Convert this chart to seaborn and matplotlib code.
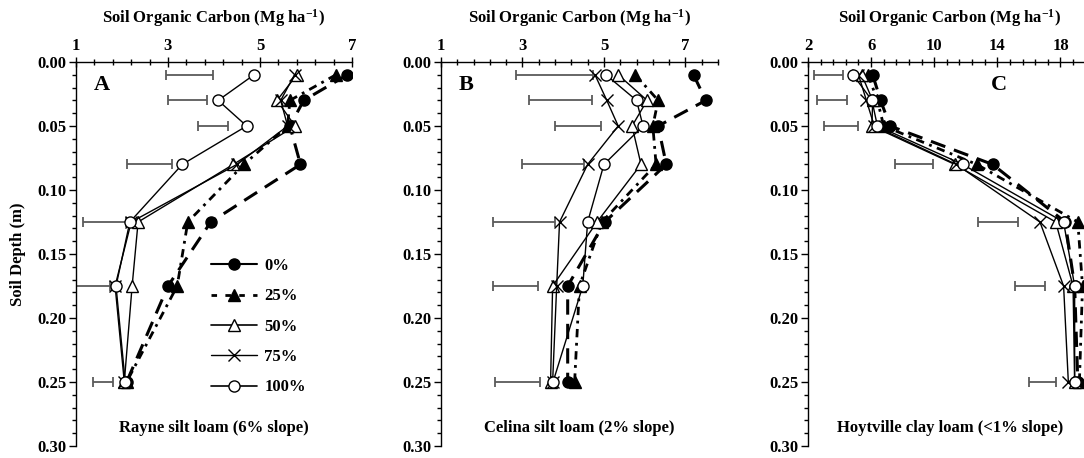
import numpy as np
import matplotlib
matplotlib.use("Agg")
import matplotlib.pyplot as plt
import seaborn as sns
from matplotlib.lines import Line2D

# ---- data -------------------------------------------------------------
depths = [0.01, 0.03, 0.05, 0.08, 0.125, 0.175, 0.25]
treatments = ["0%", "25%", "50%", "75%", "100%"]

# Rayne silt loam (6% slope)
rayne_0 = [6.90, 5.95, 5.65, 5.88, 3.93, 3.00, 2.10]
rayne_25 = [6.65, 5.65, 5.60, 4.65, 3.43, 3.20, 2.10]
rayne_50 = [5.80, 5.37, 5.76, 4.42, 2.35, 2.22, 2.05]
rayne_75 = [5.75, 5.45, 5.60, 4.50, 2.20, 1.85, 2.05]
rayne_100 = [4.87, 4.09, 4.71, 3.31, 2.17, 1.87, 2.07]
rayne_lsd_lo = [2.96, 3.00, 3.65, 2.10, 1.15, 1.00, 1.37]
rayne_lsd_hi = [3.98, 3.85, 4.30, 3.09, 2.09, 1.74, 1.80]

# Celina silt loam (2% slope)
celina_0 = [7.20, 7.50, 6.33, 6.53, 5.02, 4.11, 4.11]
celina_25 = [5.77, 6.33, 6.20, 6.28, 4.95, 4.40, 4.28]
celina_50 = [5.35, 6.06, 5.69, 5.91, 4.83, 3.74, 3.69]
celina_75 = [4.78, 5.07, 5.35, 4.60, 3.91, 3.84, 3.74]
celina_100 = [5.05, 5.80, 5.96, 5.00, 4.60, 4.48, 3.75]
celina_lsd_lo = [2.83, 3.17, 3.79, 2.98, 2.28, 2.28, 2.33]
celina_lsd_hi = [4.73, 4.70, 4.93, 4.50, 3.79, 3.37, 3.42]

# Hoytville clay loam (<1% slope)
hoyt_0 = [6.10, 6.60, 7.20, 13.70, 18.30, 18.90, 19.10]
hoyt_25 = [5.80, 6.40, 6.80, 12.70, 19.10, 19.40, 19.20]
hoyt_50 = [5.40, 6.10, 6.05, 11.30, 17.70, 18.80, 18.90]
hoyt_75 = [5.20, 5.70, 6.20, 11.40, 16.70, 18.20, 18.50]
hoyt_100 = [4.86, 6.05, 6.40, 11.80, 18.20, 18.90, 18.90]
hoyt_lsd_lo = [2.40, 2.60, 3.00, 7.50, 12.80, 15.10, 16.00]
hoyt_lsd_hi = [4.20, 4.50, 5.20, 9.90, 15.30, 17.00, 17.70]

xticks_ab = [1, 3, 5, 7]
xticks_c = [2, 6, 10, 14, 18]
yticks = [0.00, 0.05, 0.10, 0.15, 0.20, 0.25, 0.30]

panel_letters = ["A", "B", "C"]
soil_names = ["Rayne silt loam (6% slope)",
              "Celina silt loam (2% slope)",
              "Hoytville clay loam (<1% slope)"]

# ---- styling ----------------------------------------------------------
sns.set_theme(style="white", rc={
    "axes.edgecolor": "black", "text.color": "black",
    "xtick.color": "black", "ytick.color": "black",
    "axes.labelcolor": "black",
})
plt.rcParams["font.family"] = ["Liberation Serif", "DejaVu Serif"]
plt.rcParams["font.weight"] = "bold"
plt.rcParams["mathtext.fontset"] = "custom"
plt.rcParams["mathtext.rm"] = "Liberation Serif:bold"
plt.rcParams["mathtext.bf"] = "Liberation Serif:bold"
plt.rcParams["mathtext.default"] = "bf"

FS = 12

line_styles = {
    "0%":   dict(marker="o", markerfacecolor="black", markersize=8,
                 linestyle=(0, (5, 3)), linewidth=2.2),
    "25%":  dict(marker="^", markerfacecolor="black", markersize=8,
                 linestyle=(0, (3, 2, 1, 2)), linewidth=2.0),
    "50%":  dict(marker="^", markerfacecolor="white", markersize=8.5,
                 linestyle="-", linewidth=1.0),
    "75%":  dict(marker="x", markerfacecolor="none", markersize=8.5,
                 linestyle="-", linewidth=1.0),
    "100%": dict(marker="o", markerfacecolor="white", markersize=8,
                 linestyle="-", linewidth=1.0),
}

fig = plt.figure(figsize=(10.84, 4.58), dpi=100)
W, H = 1084.0, 458.0
bottom = (H - 446) / H
height = 384 / H
ax_a = fig.add_axes([76 / W, bottom, 276 / W, height])
ax_b = fig.add_axes([441 / W, bottom, 277 / W, height])
ax_c = fig.add_axes([808 / W, bottom, 284 / W, height])

panels = [
    (ax_a, [rayne_0, rayne_25, rayne_50, rayne_75, rayne_100],
     rayne_lsd_lo, rayne_lsd_hi, (1, 7), xticks_ab, 0.4, 0.065),
    (ax_b, [celina_0, celina_25, celina_50, celina_75, celina_100],
     celina_lsd_lo, celina_lsd_hi, (1, 7.8), xticks_ab, 0.4, 0.065),
    (ax_c, [hoyt_0, hoyt_25, hoyt_50, hoyt_75, hoyt_100],
     hoyt_lsd_lo, hoyt_lsd_hi, (2, 20), xticks_c, 0.8, 0.645),
]

for i, (ax, series, lo, hi, xlim, xt, xminor, letter_x) in enumerate(panels):
    lo = np.array(lo)
    hi = np.array(hi)
    ax.errorbar(x=(lo + hi) / 2, y=depths, xerr=(hi - lo) / 2, fmt="none",
                ecolor="#5a5a5a", elinewidth=1.3, capsize=3.5, capthick=1.3,
                zorder=2)
    for name, vals in zip(treatments, series):
        st = line_styles[name]
        sns.lineplot(x=vals, y=depths, orient="y", estimator=None, ax=ax,
                     color="black", markeredgecolor="black",
                     markeredgewidth=1.0, legend=False, zorder=3, **st)

    ax.set_xlim(*xlim)
    ax.set_ylim(0.30, 0.0)
    ax.xaxis.tick_top()
    ax.set_xticks(xt)
    ax.set_xticks(np.arange(xlim[0], xlim[1] + 1e-6, xminor), minor=True)
    ax.set_yticks(yticks)
    ax.set_yticklabels([f"{v:.2f}" for v in yticks])
    ax.set_yticks(np.arange(0, 0.3001, 0.01), minor=True)
    ax.tick_params(axis="x", which="major", direction="inout", length=7,
                   width=1, top=True, bottom=False, labelsize=FS, pad=2)
    ax.tick_params(axis="x", which="minor", direction="inout", length=4,
                   width=1, top=True, bottom=False)
    ax.tick_params(axis="y", which="major", direction="out", length=5,
                   width=1, left=True, labelsize=FS, pad=2)
    ax.tick_params(axis="y", which="minor", direction="out", length=3,
                   width=1, left=True)
    for lab in ax.get_xticklabels() + ax.get_yticklabels():
        lab.set_fontweight("bold")
    ax.spines["right"].set_visible(False)
    ax.spines["bottom"].set_visible(False)
    ax.spines["top"].set_linewidth(1.0)
    ax.spines["left"].set_linewidth(1.0)
    ax.set_xlabel("")
    ax.set_ylabel("")

    ax.text(0.5, 1 + 44 / 384, r"Soil Organic Carbon (Mg ha$^{-1}$)",
            transform=ax.transAxes, ha="center", va="center",
            fontsize=FS, fontweight="bold")
    ax.text(letter_x, 0.94, panel_letters[i], transform=ax.transAxes,
            ha="left", va="center", fontsize=16, fontweight="bold")
    ax.text(0.5, 18 / 384, soil_names[i], transform=ax.transAxes,
            ha="center", va="center", fontsize=FS, fontweight="bold")

ax_a.set_ylabel("Soil Depth (m)", fontsize=FS, fontweight="bold")
ax_a.yaxis.set_label_coords(-50 / 276, 0.5)

# legend handles drawn with the same markers as the lines
legend_ls = {"0%": "-", "25%": (0, (2, 3)), "50%": "-", "75%": "-", "100%": "-"}
legend_lw = {"0%": 1.5, "25%": 2.0, "50%": 1.2, "75%": 1.0, "100%": 1.2}
handles = []
for name in treatments:
    st = line_styles[name]
    handles.append(Line2D([], [], color="black", marker=st["marker"],
                          markerfacecolor=st["markerfacecolor"],
                          markeredgecolor="black", markersize=st["markersize"],
                          linestyle=legend_ls[name], linewidth=legend_lw[name]))
ax_a.legend(handles, treatments, loc="upper left",
            bbox_to_anchor=((211 - 76) / 276, 1 - (258 - 62) / 384),
            frameon=False, handlelength=2.75, handletextpad=0.45,
            labelspacing=0.86, borderpad=0, borderaxespad=0,
            prop={"family": "Liberation Serif", "weight": "bold", "size": FS})

fig.savefig("out.png", dpi=100)
